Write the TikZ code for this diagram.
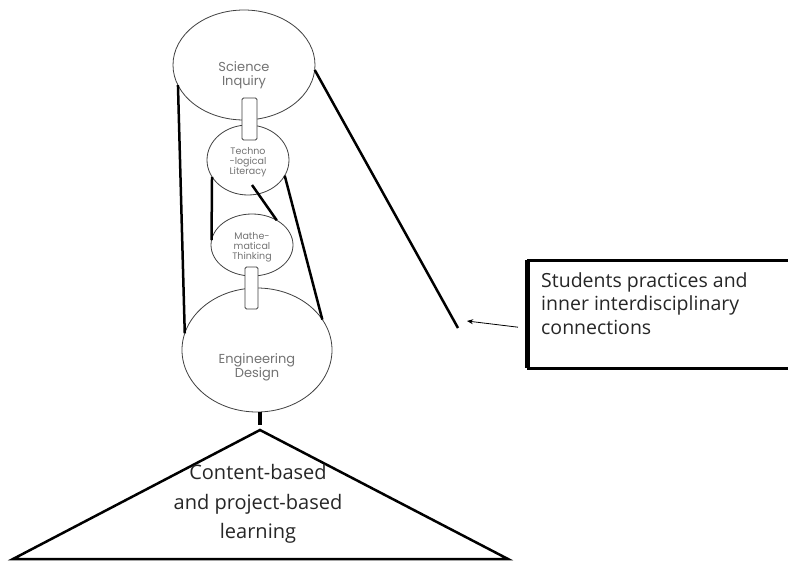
\documentclass[tikz,border=0pt]{standalone}
\usepackage{fontspec}
\setmainfont{Open Sans}
\newfontfamily\circfont{Poppins}
\usetikzlibrary{shapes.geometric,arrows.meta,calc}

\begin{document}
\begin{tikzpicture}[x=1pt,y=-1pt]
  \tikzset{area/.style = {shape=ellipse,draw=black!75,fill=white,line width=0.8pt,inner sep=0pt,outer sep=0pt}}
  \tikzset{areatext/.style = {align=center,text=black!55,inner sep=0pt}}
  \tikzset{link/.style = {shape=rectangle,draw=black!75,fill=white,line width=0.8pt,rounded corners=1.5pt,inner sep=0pt,minimum height=42pt}}
  \tikzset{bar/.style = {line width=2.5pt}}

  \useasboundingbox (0,0) rectangle (788,562);

	\node[area,minimum width=142pt,minimum height=110pt] (sci) at (244,65) {};
	\node[areatext,font=\circfont\fontsize{13}{14}\selectfont] (scitext) at (244,75) {Science\\Inquiry};

	\node[area,minimum width=82pt,minimum height=70pt] (tech) at (248,160) {};
	\node[areatext,font=\circfont\fontsize{9.5}{10}\selectfont] (techtext) at (248,162) {Techno\\-logical\\Literacy};

	\node[area,minimum width=82pt,minimum height=62pt] (math) at (252,245) {};
	\node[areatext,font=\circfont\fontsize{9.5}{10}\selectfont] (mathtext) at (252,247) {Mathe-\\matical\\Thinking};

	\node[area,minimum width=150pt,minimum height=124pt] (eng) at (257,350) {};
	\node[areatext,font=\circfont\fontsize{13}{14}\selectfont] (engtext) at (257,367) {Engineering\\Design};

	\node[link,minimum width=15pt] (lk1) at (249.5,119) {};
	\node[link,minimum width=13pt] (lk2) at (251.5,288) {};

	\coordinate (lineend) at (458,328);
	\coordinate (diag) at (252,185);

    \foreach \from/\to in {sci.197/eng.167, tech.205/math.173, tech.337/eng.25, sci.356/lineend, diag/math.45}
    \draw[bar] (\from) -- (\to);

	\coordinate (apex) at (260,430);
	\coordinate (bl) at (13,559);
	\coordinate (br) at (508,559);
	\draw[line width=4pt] (eng.south -| apex) -- ([yshift=5pt]apex);
	\draw[bar,line join=miter] (bl) -- (apex) -- (br) -- cycle;
	\node[align=center,text=black!85,font=\fontsize{20}{29.5}\selectfont] (learn) at (258,504) {Content-based\\and project-based\\learning};

	\node[minimum width=270pt,minimum height=108pt,anchor=north west,inner sep=0pt] (box) at (527,260) {};
	\draw[line width=3pt] (box.north east) -- (box.north west);
	\draw[line width=3pt] (box.south west) -- (box.south east);
	\draw[line width=5pt] (box.north west) -- (box.south west);
	\node[anchor=north west,align=left,inner sep=0pt,text=black!85,font=\fontsize{19.5}{23.5}\selectfont] (note) at (541,272) {Students practices and\\inner interdisciplinary\\connections};

	\draw[-{Stealth[length=6pt,width=5pt]},line width=0.8pt] ([shift={(-9,13)}]box.west) -- ([shift={(9,-7)}]lineend);

\end{tikzpicture}
\end{document}
